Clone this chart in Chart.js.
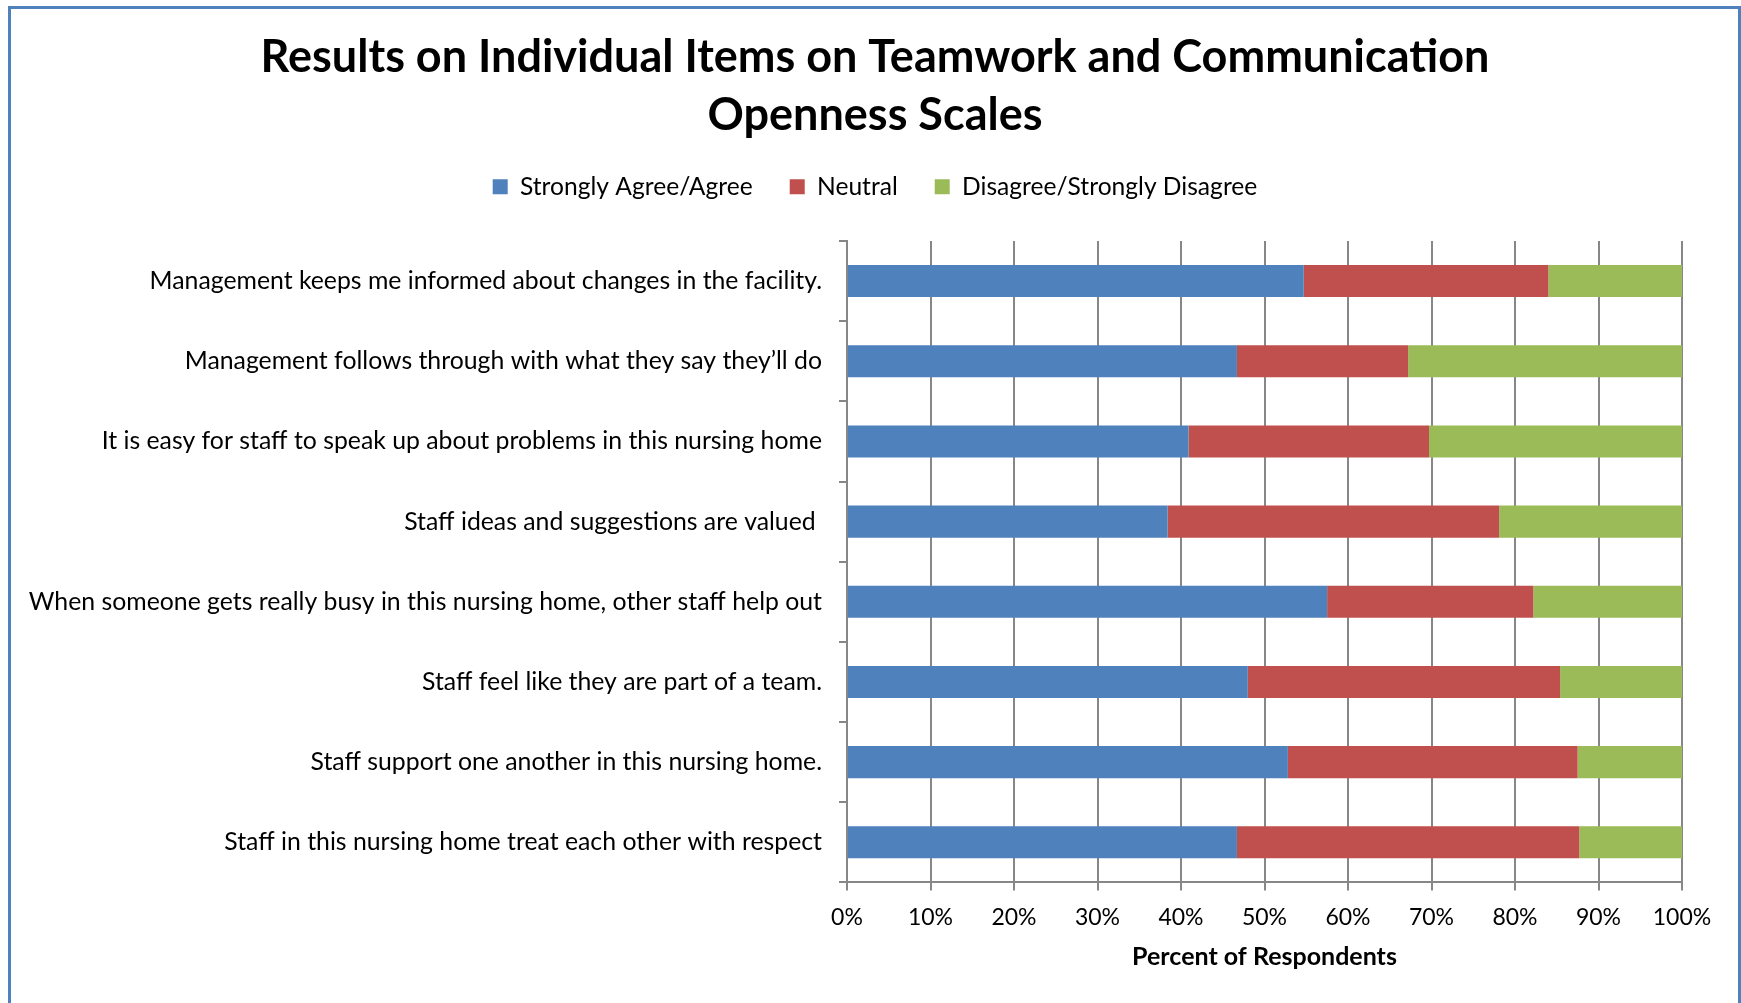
<!DOCTYPE html>
<html>
<head>
<meta charset="utf-8">
<script src="https://cdn.jsdelivr.net/npm/chart.js@4.4.1/dist/chart.umd.min.js"></script>
<style>
  html, body { margin: 0; padding: 0; background: #fff; }
  #wrap { position: relative; width: 1741px; height: 1003px; }
  #frame {
    position: absolute; left: 8px; top: 6px; width: 1727px; height: 1010px;
    border: 3px solid #4f81bd; pointer-events: none;
  }
</style>
</head>
<body>
<div id="wrap">
  <canvas id="grafico" width="1741" height="1003"></canvas>
  <div id="frame"></div>
</div>
<script>
// Datos del grafico (porcentaje de encuestados)
const items = [
  'Management keeps me informed about changes in the facility.',
  'Management follows through with what they say they\u2019ll do',
  'It is easy for staff to speak up about problems in this nursing home',
  'Staff ideas and suggestions are valued ',
  'When someone gets really busy in this nursing home, other staff help out',
  'Staff feel like they are part of a team.',
  'Staff support one another in this nursing home.',
  'Staff in this nursing home treat each other with respect'
];
const seriesNames = ['Strongly Agree/Agree', 'Neutral', 'Disagree/Strongly Disagree'];
const agree    = [54.7, 46.7, 40.9, 38.4, 57.5, 48.0, 52.8, 46.7];
const neutral  = [29.3, 20.5, 28.8, 39.7, 24.7, 37.4, 34.7, 41.0];
const disagree = [16.0, 32.8, 30.3, 21.9, 17.8, 14.6, 12.5, 12.3];
const xTicks = [0, 10, 20, 30, 40, 50, 60, 70, 80, 90, 100];

const colores = ['#4f81bd', '#c0504d', '#9bbb59'];
const gris = '#878787';
const fuente = 'Lato, "Open Sans", sans-serif';

// separacion extra bajo la leyenda
const legendGap = {
  id: 'legendGap',
  beforeInit(chart) {
    const fit = chart.legend.fit;
    chart.legend.fit = function () {
      fit.bind(chart.legend)();
      this.height += 32;
    };
  },
  // centrar titulo y leyenda en el lienzo, no en el area sin margen
  afterLayout(chart) {
    const shift = 34;
    [chart.titleBlock, chart.legend].forEach(b => {
      if (b) { b.left += shift; b.right += shift; }
    });
  }
};

new Chart(document.getElementById('grafico'), {
  type: 'bar',
  data: {
    labels: items,
    datasets: [agree, neutral, disagree].map((d, i) => ({
      label: seriesNames[i],
      data: d,
      backgroundColor: colores[i],
      borderWidth: 0,
      categoryPercentage: 0.8,
      barPercentage: 0.5
    }))
  },
  plugins: [legendGap],
  options: {
    indexAxis: 'y',
    responsive: false,
    animation: false,
    layout: { padding: { top: 28, right: 59, bottom: 31, left: 0 } },
    plugins: {
      title: {
        display: true,
        text: ['Results on Individual Items on Teamwork and Communication', 'Openness Scales'],
        color: '#000',
        font: { size: 45, weight: 'bold', family: fuente, lineHeight: 1.29 },
        padding: { top: 0, bottom: -6.7 }
      },
      legend: {
        display: true,
        labels: {
          color: '#000',
          font: { size: 24.6, family: fuente },
          boxWidth: 15,
          boxHeight: 15,
          padding: 37
        }
      },
      tooltip: { enabled: false }
    },
    scales: {
      x: {
        stacked: true,
        min: 0,
        max: 100,
        afterBuildTicks(scale) { scale.ticks = xTicks.map(v => ({ value: v })); },
        ticks: {
          color: '#000',
          font: { size: 23, family: fuente },
          padding: 13,
          callback: v => v + '%'
        },
        grid: { color: gris, lineWidth: 2, tickLength: 8 },
        border: { color: gris, width: 2 },
        title: {
          display: true,
          text: 'Percent of Respondents',
          color: '#000',
          font: { size: 25, weight: 'bold', family: fuente },
          padding: { top: -2, bottom: 0 }
        }
      },
      y: {
        stacked: true,
        afterFit(scale) { scale.width = 847; },
        ticks: {
          color: '#000',
          font: { size: 24.8, family: fuente },
          padding: 17
        },
        grid: { drawOnChartArea: false, offset: true, color: gris, lineWidth: 2, tickLength: 8 },
        border: { color: gris, width: 2 }
      }
    }
  }
});
</script>
</body>
</html>
